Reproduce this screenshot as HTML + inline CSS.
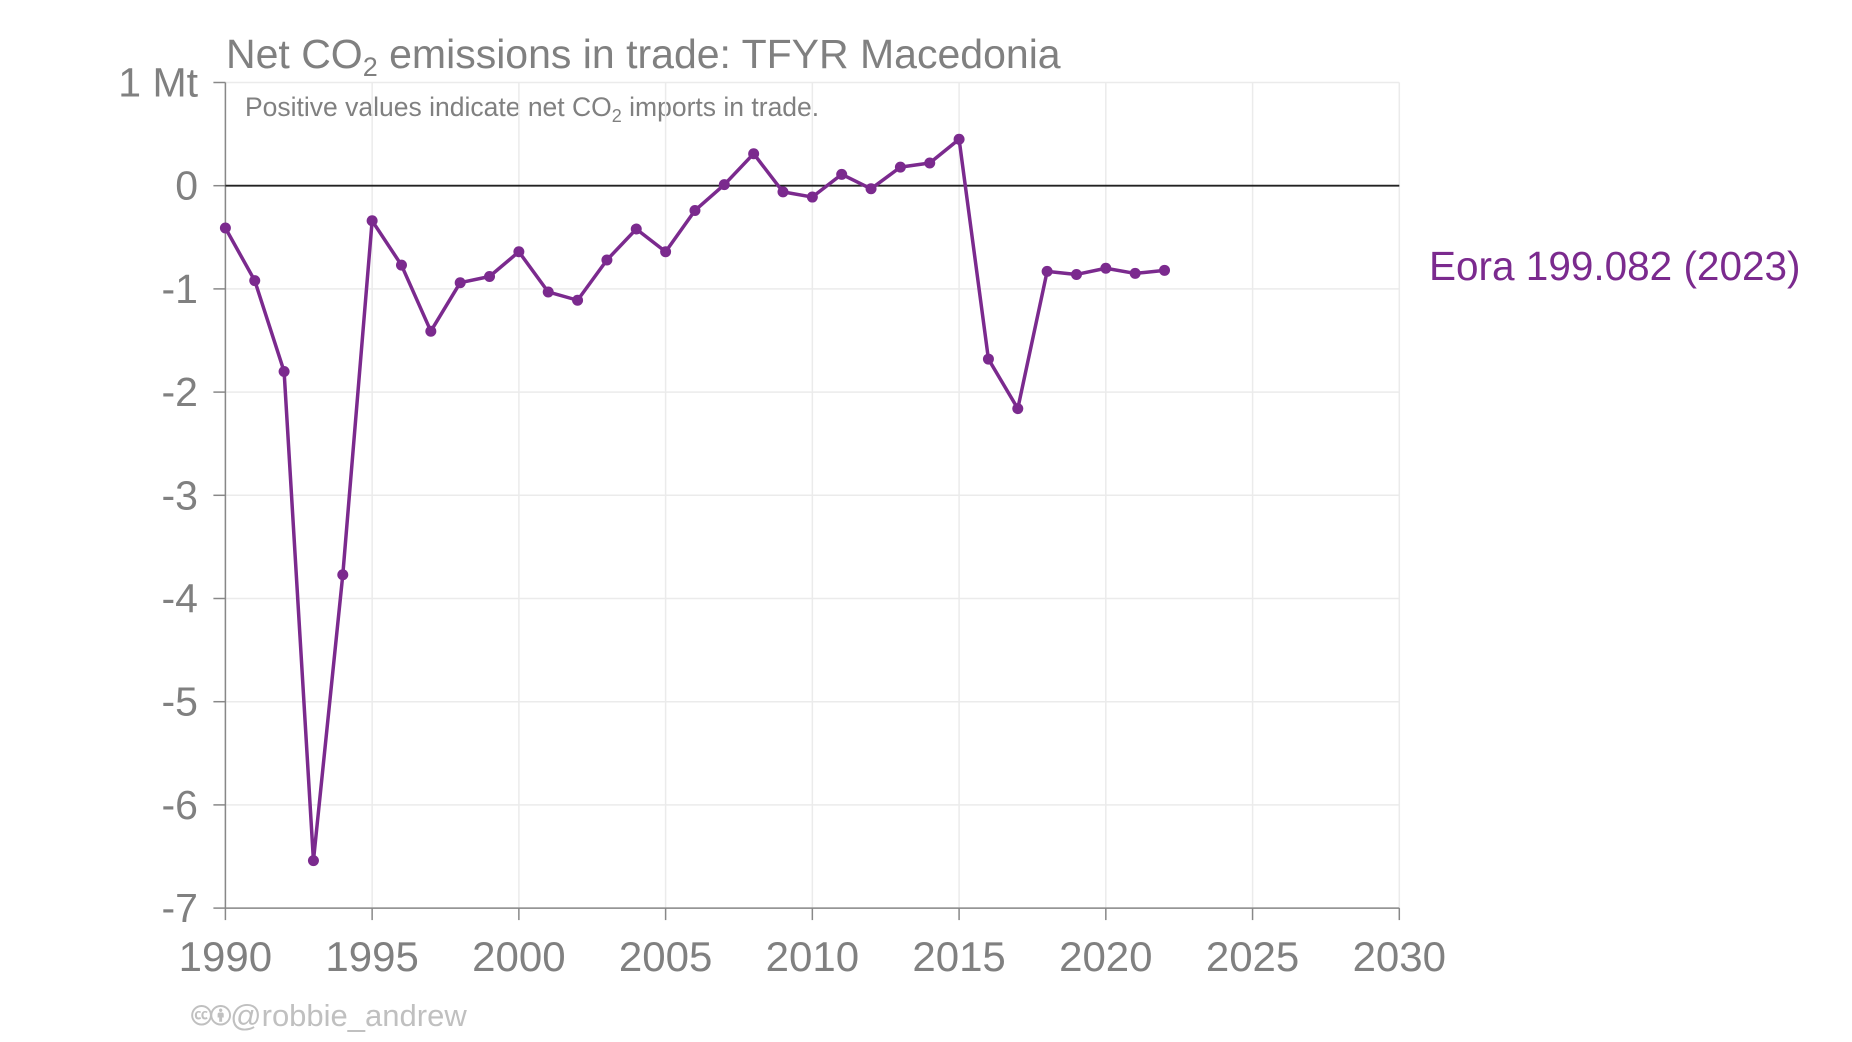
<!DOCTYPE html>
<html><head><meta charset="utf-8"><style>
html,body{margin:0;padding:0;background:#fff;}
svg{display:block;font-family:"Liberation Sans",sans-serif;}
</style></head><body>
<svg id="chart" width="1852" height="1042" viewBox="0 0 1852 1042">
<text x="226" y="68" font-size="41" fill="#808080">Net CO<tspan font-size="27" dy="8">2</tspan><tspan dy="-8"> emissions in trade: TFYR Macedonia</tspan></text>
<text x="245" y="116" font-size="26.5" fill="#808080">Positive values indicate net CO<tspan font-size="18" dy="6">2</tspan><tspan dy="-6"> imports in trade.</tspan></text>
<g id="grid"></g><g id="axes"></g><g id="series"></g>
<text x="1429" y="280" font-size="40.5" fill="#7b2a8e">Eora 199.082 (2023)</text>
<text x="192" y="1026" font-size="31" fill="#c0c0c0">🅭🅯@robbie_andrew</text>
</svg>
<script>
const years=[1990,1991,1992,1993,1994,1995,1996,1997,1998,1999,2000,2001,2002,2003,2004,2005,2006,2007,2008,2009,2010,2011,2012,2013,2014,2015,2016,2017,2018,2019,2020,2021,2022];
const values=[-0.41,-0.92,-1.80,-6.54,-3.77,-0.34,-0.77,-1.41,-0.94,-0.88,-0.64,-1.03,-1.11,-0.72,-0.42,-0.64,-0.24,0.01,0.31,-0.06,-0.11,0.11,-0.03,0.18,0.22,0.45,-1.68,-2.16,-0.83,-0.86,-0.80,-0.85,-0.82];
const xTicks=[1990,1995,2000,2005,2010,2015,2020,2025,2030];
const yTicks=[1,0,-1,-2,-3,-4,-5,-6,-7];
const yTickLabels=["1 Mt","0","-1","-2","-3","-4","-5","-6","-7"];
const NS="http://www.w3.org/2000/svg";
const X0=225.4,X1=1399.3,Y0=185.7,YU=103.2;
const xs=y=>X0+(y-1990)*(X1-X0)/40;
const ys=v=>Y0-v*YU;
function mk(t,a,p){const e=document.createElementNS(NS,t);for(const k in a)e.setAttribute(k,a[k]);p.appendChild(e);return e;}
const grid=document.getElementById('grid'),axes=document.getElementById('axes'),ser=document.getElementById('series');
xTicks.forEach(t=>{
 const l=mk('line',{x1:xs(t),x2:xs(t),y1:ys(1),y2:ys(-7),stroke:'#ebebeb','stroke-width':1.5},grid);
 
 
 const tk=mk('line',{x1:xs(t),x2:xs(t),y1:ys(-7),y2:ys(-7)+12,stroke:'#888','stroke-width':1.5},axes);
 
 
 const tx=mk('text',{x:xs(t),y:971,'font-size':42,fill:'#808080','text-anchor':'middle'},axes);
 tx.textContent=t;
 
 
});
yTicks.forEach((t,i)=>{
 if(t!==0){const l=mk('line',{x1:X0,x2:X1,y1:ys(t),y2:ys(t),stroke:'#ebebeb','stroke-width':1.5},grid);
 
 }
 const tk=mk('line',{x1:X0-12,x2:X0,y1:ys(t),y2:ys(t),stroke:'#888','stroke-width':1.5},axes);
 
 
 const tx=mk('text',{x:198,y:ys(t)+14,'font-size':41,fill:'#808080','text-anchor':'end'},axes);
 tx.textContent=yTickLabels[i];
 
 
});
const ya=mk('line',{x1:X0,x2:X0,y1:ys(1),y2:ys(-7),stroke:'#888','stroke-width':1.5},axes);


const xa=mk('line',{x1:X0,x2:X1,y1:ys(-7),y2:ys(-7),stroke:'#888','stroke-width':1.5},axes);


const z=mk('line',{x1:X0,x2:X1,y1:ys(0),y2:ys(0),stroke:'#222','stroke-width':1.8},axes);


const pts=years.map((y,i)=>xs(y)+','+ys(values[i])).join(' ');
const pl=mk('polyline',{points:pts,fill:'none',stroke:'#7b2a8e','stroke-width':3.5,'stroke-linejoin':'round'},ser);


years.forEach((y,i)=>{
 const c=mk('circle',{cx:xs(y),cy:ys(values[i]),r:5.5,fill:'#7b2a8e'},ser);
 
 
});
</script>
</body></html>
